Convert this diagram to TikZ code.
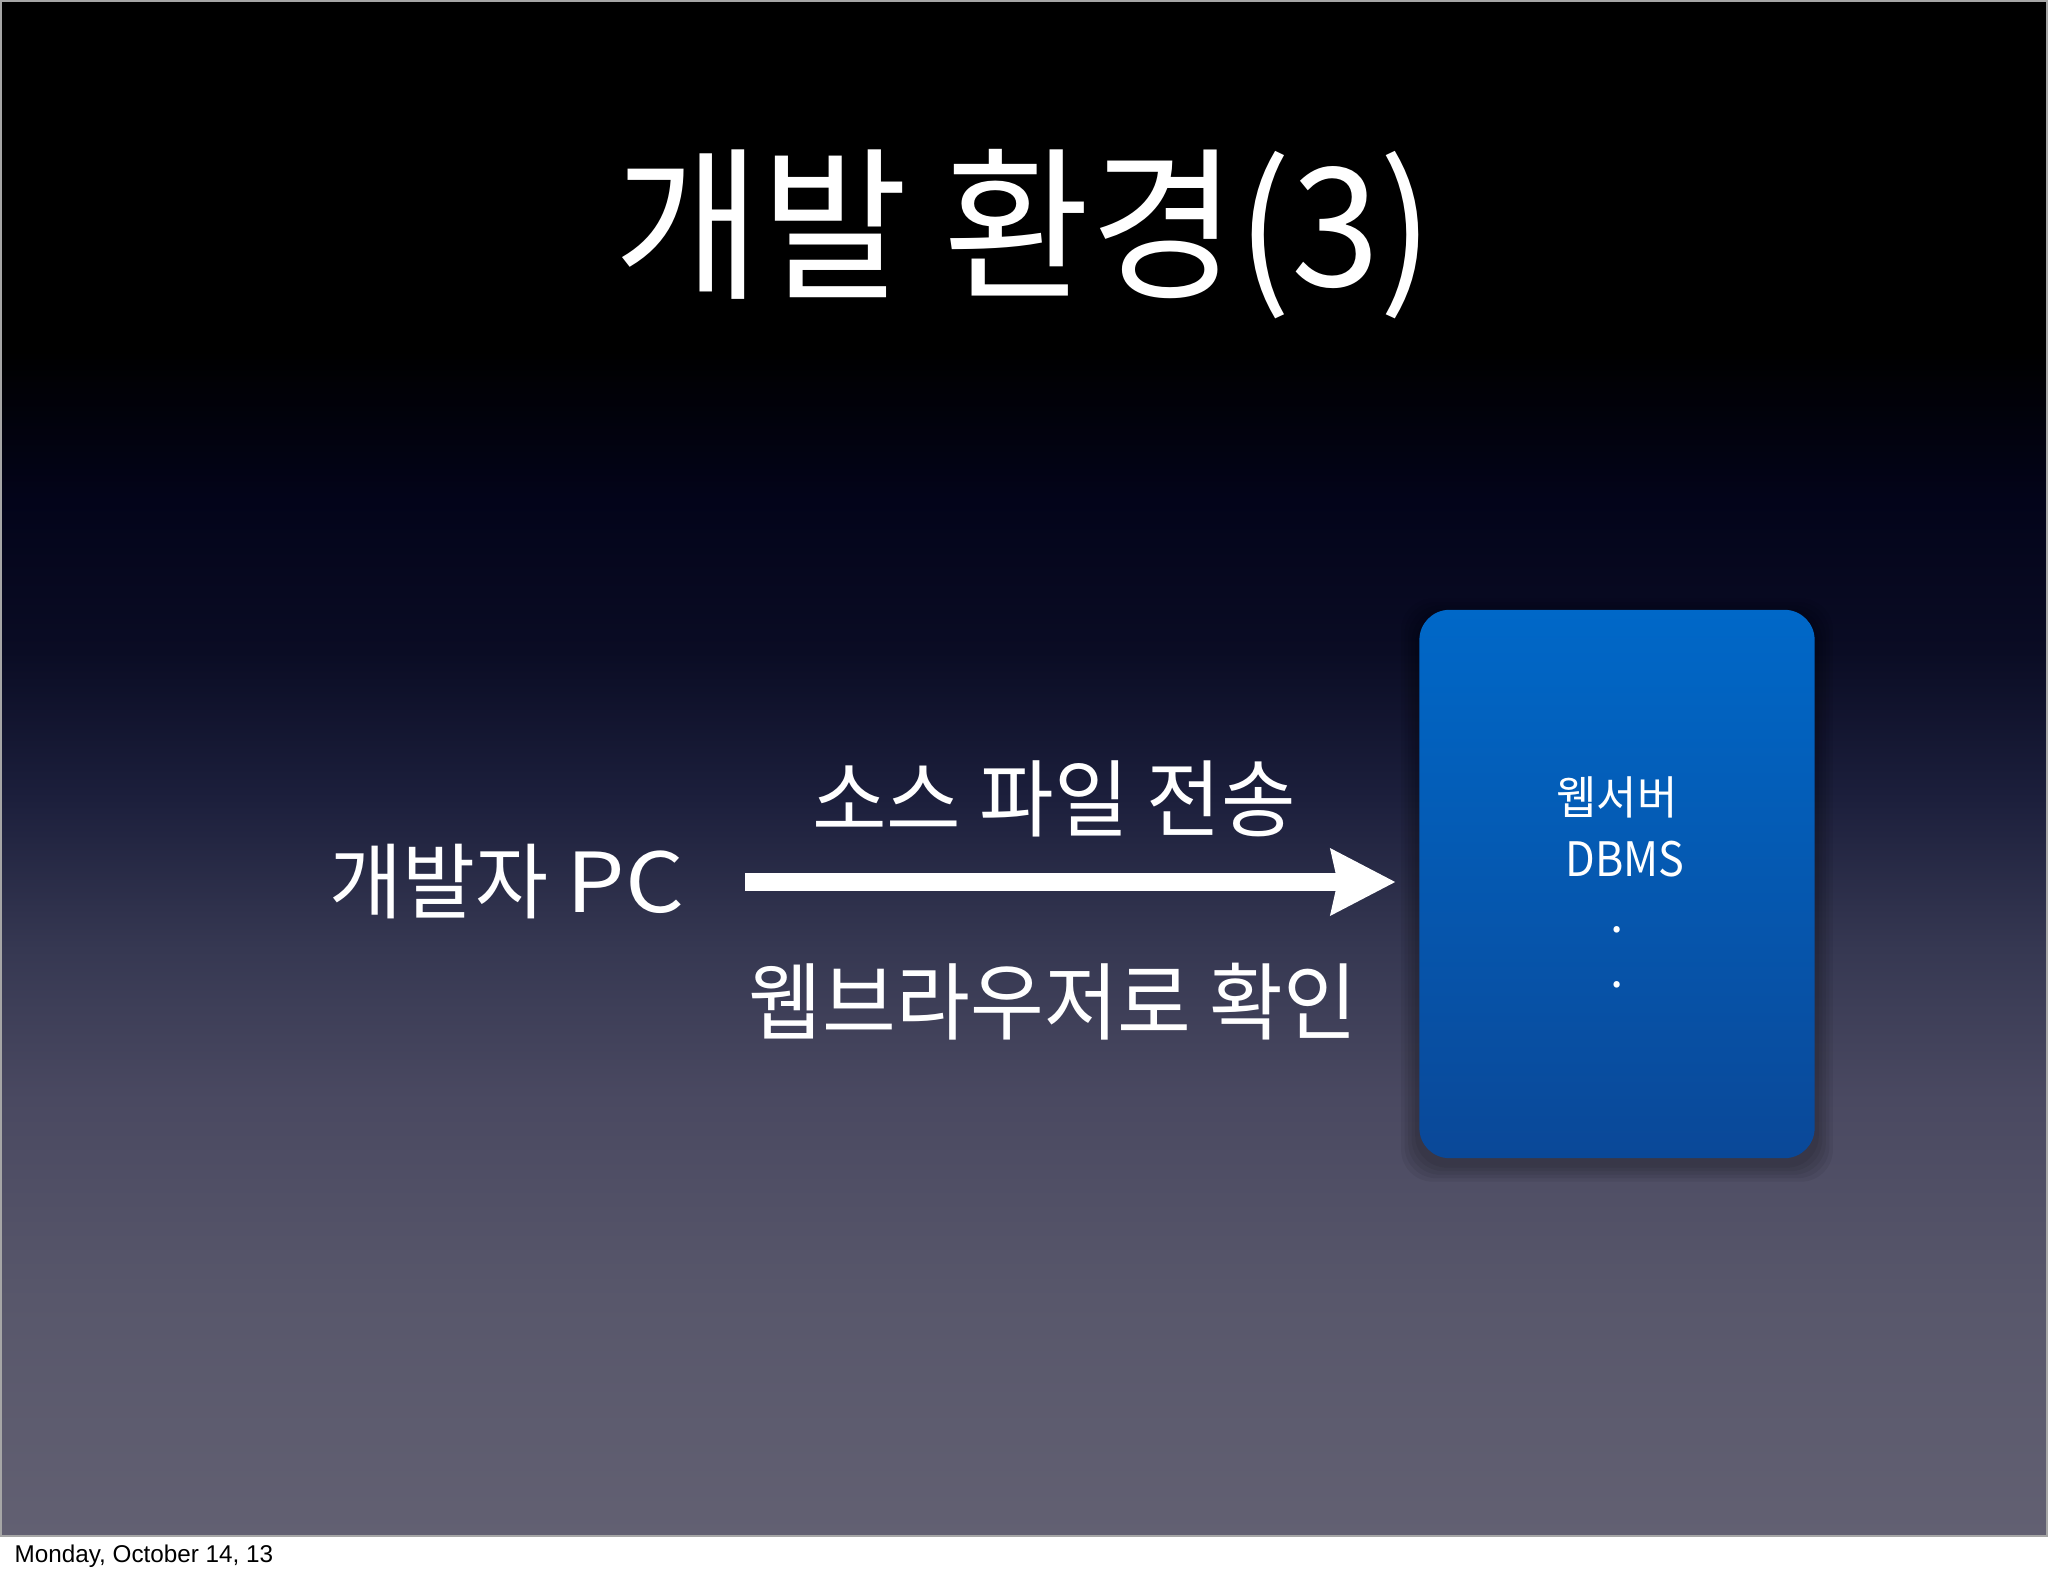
\documentclass[tikz,border=0pt]{standalone}
\usepackage{fontspec}
\setmainfont{Noto Sans CJK KR}
\newfontfamily\datefont{Liberation Sans}
\usetikzlibrary{arrows.meta,positioning}

\definecolor{boxtop}{HTML}{0068C8}
\definecolor{boxbot}{HTML}{0A4898}
\definecolor{bgzero}{HTML}{000000}
\definecolor{bgone}{HTML}{03041A}
\definecolor{bgtwo}{HTML}{0A0C24}
\definecolor{bgthree}{HTML}{1C1F3C}
\definecolor{bgfour}{HTML}{363852}
\definecolor{bgfive}{HTML}{4A4961}
\definecolor{bgsix}{HTML}{58576B}
\definecolor{bgseven}{HTML}{626072}

\pgfdeclareverticalshading{slidebg}{100bp}{color(0bp)=(bgseven); color(25bp)=(bgseven);
  color(32.7bp)=(bgsix); color(39.2bp)=(bgfive); color(44.1bp)=(bgfour);
  color(49bp)=(bgthree); color(53.8bp)=(bgtwo); color(58.7bp)=(bgone);
  color(63.6bp)=(bgzero); color(100bp)=(bgzero)}

\pgfdeclarelayer{slide}
\pgfsetlayers{slide,main}

\newcommand{\cond}[2][0.96]{\scalebox{#1}[1]{#2}}

\begin{document}
\begin{tikzpicture}[x=0.01cm, y=-0.01cm,
    label/.style={text=white, inner sep=0pt},
    serverbox/.style={rounded corners=0.3cm, minimum width=3.95cm, minimum height=5.48cm,
      top color=boxtop, bottom color=boxbot},
    flow/.style={white, line width=5.2pt, -{Stealth[length=0.64cm, width=0.64cm, inset=0.06cm]}}]
    % Slide
    \useasboundingbox (0,0) rectangle (2048,1576);
    \begin{pgfonlayer}{slide}
      \fill[white] (0,0) rectangle (2048,1576);
      \shade[shading=slidebg] (0,0) rectangle (2048,1536);
      \draw[gray!70, line width=0.6pt] (0.5,0.5) rectangle (2047.5,1536);
    \end{pgfonlayer}

    % Title
    \node[label, font=\fontsize{47}{56}\selectfont] (title) at (1024,234) {\cond[0.965]{개발 환경(3)}};

    % Nodes
    \node[label, font=\fontsize{23.5}{28}\selectfont] (pc) at (507,882) {\cond{개발자} \scalebox{1.12}[1]{PC}};
    \node[serverbox] (server) at (1617,884) {};
    \node[label, font=\fontsize{13}{15}\selectfont] (web) at (1617,797) {\cond{웹서버}};
    \node[label, font=\fontsize{13.5}{16}\selectfont] (db) at (1625,859) {\cond[0.91]{DBMS}};
    \node[label, font=\fontsize{13.5}{16}\selectfont] (dotA) at (1617,930) {.};
    \node[label, font=\fontsize{13.5}{16}\selectfont] (dotB) at (1617,985) {.};

    % Shadow under the box
    \begin{pgfonlayer}{slide}
      \foreach \s in {1,2,3,4,5}
        \fill[black, opacity=0.06, rounded corners=0.32cm]
          ([shift={(-\s*1pt,-\s*1pt-1.5pt)}]server.south west) rectangle ([shift={(\s*1pt,\s*1pt-2pt)}]server.north east);
    \end{pgfonlayer}

    % Transfer
    \draw[flow, shorten <=0.6cm, shorten >=0.23cm] (pc.east) -- (pc.east -| server.west);
    \node[label, font=\fontsize{24}{29}\selectfont] (send) at (1054,799) {\cond{소스 파일 전송}};
    \node[label, font=\fontsize{24}{29}\selectfont] (check) at (1053,1002) {\cond[0.95]{웹브라우저로 확인}};

    % Footer
    \node[anchor=base west, inner sep=0pt, font=\datefont\fontsize{6.9}{8}\selectfont] (date) at (14,1562) {Monday, October 14, 13};
\end{tikzpicture}
\end{document}
